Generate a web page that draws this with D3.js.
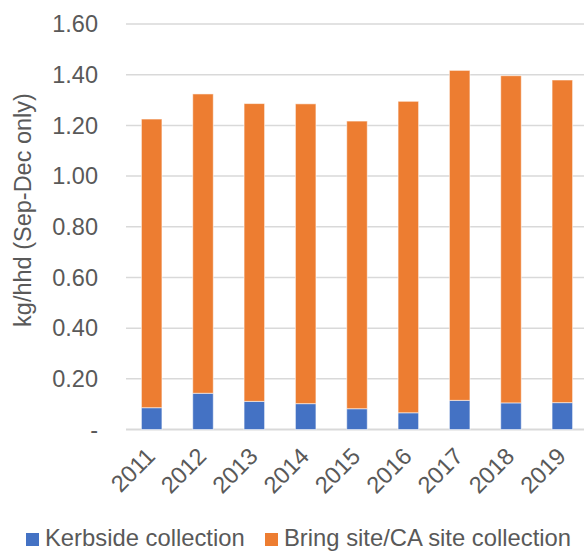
<!DOCTYPE html>
<html>
<head>
<meta charset="utf-8">
<script src="https://cdn.jsdelivr.net/npm/d3@7"></script>
<style>
  html, body { margin: 0; padding: 0; background: #fff; }
  svg { display: block; font-family: "Liberation Sans", Arial, sans-serif; }
</style>
</head>
<body>
<svg id="chart" width="584" height="551"></svg>
<script>
// Household waste collected, kg per household (Sep-Dec only)
const years = ["2011", "2012", "2013", "2014", "2015", "2016", "2017", "2018", "2019"];
const kerbside = [0.086, 0.143, 0.111, 0.102, 0.082, 0.066, 0.115, 0.105, 0.106];
const bringSite = [1.139, 1.181, 1.175, 1.183, 1.135, 1.229, 1.302, 1.291, 1.273];
const seriesNames = ["Kerbside collection", "Bring site/CA site collection"];
const seriesColors = ["#4472C4", "#ED7D31"];
const yTicks = [0, 0.2, 0.4, 0.6, 0.8, 1.0, 1.2, 1.4, 1.6];
const yTickLabels = ["-", "0.20", "0.40", "0.60", "0.80", "1.00", "1.20", "1.40", "1.60"];
const yTitle = "kg/hhd (Sep-Dec only)";

const svg = d3.select("#chart");
const textColor = "#595959";
const gridColor = "#d9d9d9";
const fontSize = 23.5;

const x = d3.scaleBand().domain(years).range([126, 588]).paddingInner(0.6).paddingOuter(0.3);
const y = d3.scaleLinear().domain([0, 1.6]).range([429.5, 24]);

// horizontal gridlines
svg.append("g").selectAll("line").data(yTicks).join("line")
  .attr("x1", 126).attr("x2", 584)
  .attr("y1", d => y(d)).attr("y2", d => y(d))
  .attr("stroke", gridColor).attr("stroke-width", d => d === 0 ? 2 : 1.5);

// y tick labels
svg.append("g").selectAll("text").data(yTicks).join("text")
  .attr("x", 98).attr("y", d => y(d)).attr("dy", "0.35em")
  .attr("text-anchor", "end").attr("fill", textColor).attr("font-size", fontSize)
  .text((d, i) => yTickLabels[i]);

// y axis title
svg.append("text")
  .attr("transform", "translate(31,210) rotate(-90)")
  .attr("text-anchor", "middle").attr("fill", textColor).attr("font-size", fontSize)
  .text(yTitle);

// stacked bars
const rows = years.map((yr, i) => ({ year: yr, kerb: kerbside[i], bring: bringSite[i] }));
const stack = d3.stack().keys(["kerb", "bring"])(rows);
svg.append("g").selectAll("g").data(stack).join("g")
  .attr("fill", (d, i) => seriesColors[i])
  .selectAll("rect").data(d => d).join("rect")
  .attr("x", d => x(d.data.year))
  .attr("width", x.bandwidth())
  .attr("y", d => y(d[1]))
  .attr("height", d => y(d[0]) - y(d[1]))
  .attr("stroke", "rgba(255,255,255,0.55)").attr("stroke-width", 1);

// x labels, rotated
svg.append("g").selectAll("text").data(years).join("text")
  .attr("transform", d => `translate(${x(d) + x.bandwidth() / 2 - 1},${452}) rotate(-45)`)
  .attr("text-anchor", "end").attr("dy", "0.35em")
  .attr("fill", textColor).attr("font-size", fontSize)
  .text(d => d);

// legend
const legendX = [26, 265];
const lg = svg.append("g").selectAll("g").data(seriesNames).join("g")
  .attr("transform", (d, i) => `translate(${legendX[i]},0)`);
lg.append("rect").attr("x", 0).attr("y", 533).attr("width", 13).attr("height", 13)
  .attr("fill", (d, i) => seriesColors[i]);
lg.append("text").attr("x", 19).attr("y", 546)
  .attr("fill", textColor).attr("font-size", 23.8)
  .text(d => d);
</script>
</body>
</html>
